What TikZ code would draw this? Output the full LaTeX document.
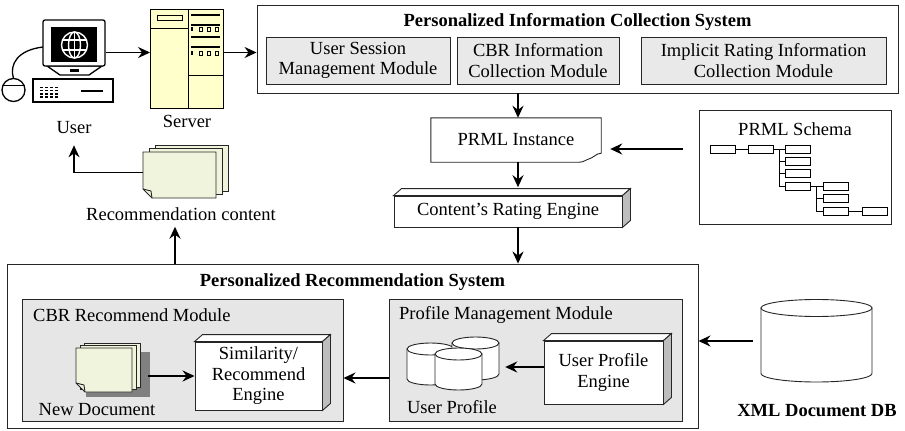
\documentclass[tikz,border=0pt]{standalone}
\usepackage{fontspec}
\setmainfont{Liberation Serif}
\usetikzlibrary{arrows.meta,calc}

\definecolor{srvfill}{HTML}{FFFFCC}
\definecolor{docfill}{HTML}{F1F4DC}
\definecolor{modfill}{HTML}{E6E6E6}
\definecolor{subfill}{HTML}{E9E9E9}
\definecolor{sidefill}{HTML}{BDBDBD}

% top and side faces of a raised (3-D) box whose front face is node #1
\newcommand\raisedface[1]{%
  \filldraw[boxline, fill=white] (#1.north west) -- ++(8,-7) -- ($(#1.north east)+(8,-7)$) -- (#1.north east) -- cycle;
  \filldraw[boxline, fill=sidefill] (#1.north east) -- ++(8,-7) -- ($(#1.south east)+(8,-7)$) -- (#1.south east) -- cycle;}

% database cylinder: centre x, top y, bottom y, x radius, y radius
\newcommand\drawcyl[5]{%
  \filldraw[boxline, fill=white] ({#1-#4},#2) -- ({#1-#4},#3)
    arc[start angle=180, end angle=360, x radius=#4pt, y radius=#5pt] -- ({#1+#4},#2) -- cycle;
  \filldraw[boxline, fill=white] (#1,#2) ellipse[x radius=#4pt, y radius=#5pt];}

% stack of three sheets: x, y of the front sheet, width, height, shift of the sheets behind
\newcommand\pagestack[6]{%
  \filldraw[sheet] ({#1+2*#5},{#2-2*#6}) rectangle ++(#3,#4);
  \filldraw[sheet] ({#1+#5},{#2-#6}) rectangle ++(#3,#4);
  \filldraw[sheet] (#1,#2) -- ++(#3,0) -- ++(0,#4) -- ({#1+9},{#2+#4}) -- (#1,{#2+#4-9}) -- cycle;
  \draw[sheet, fill=none] (#1,{#2+#4-9}) -- ({#1+8},{#2+#4-7}) -- ({#1+9},{#2+#4});}

\begin{document}
\begin{tikzpicture}[x=1pt, y=-1pt,
  every node/.style={font=\fontsize{18.5}{20.5}\selectfont, inner sep=0pt, align=center},
  boxline/.style={draw=black!85, line width=0.9pt},
  sysbox/.style={boxline, fill=white},
  subbox/.style={boxline, fill=subfill},
  modbox/.style={boxline, fill=modfill},
  facebox/.style={boxline, fill=white},
  heading/.style={font=\fontsize{18.5}{20.5}\selectfont\bfseries},
  conn/.style={line width=1.7pt, -{Stealth[length=12pt, width=11pt, inset=4pt]}},
  leaf/.style={draw, line width=0.9pt, fill=white, minimum width=25, minimum height=8},
  tree/.style={line width=0.9pt},
  sheet/.style={draw=black!85, line width=0.9pt, fill=docfill},
  hw/.style={line width=1.3pt},
]
\useasboundingbox (0,0) rectangle (905,431);
\fill[white] (0,0) rectangle (905,431);

% ---------- user's computer ----------
\draw[hw] (13.5,78.5) .. controls (9,64) and (18,50) .. (43,47);
\draw[hw, fill=white] (13.5,90) circle[radius=11.5pt];
\draw[hw] (2.5,85.5) -- (24.5,85.5);
\filldraw[hw, fill=white] (47,66) -- (102,66) -- (89,75) -- (60,75) -- cycle;
\fill (70,68.5) rectangle (79,71.5);
\node[hw, draw, fill=white, rounded corners=2pt, minimum width=62, minimum height=46] (monitor) at (74,43) {};
\fill[black] (51,27) rectangle (97,62);
\begin{scope}[draw=white, line width=1.4pt]
  \draw (74.5,45) circle[radius=13pt];
  \draw (74.5,45) ellipse[x radius=6pt, y radius=13pt];
  \draw (74.5,32) -- (74.5,58);
  \draw (62.5,40) -- (86.5,40);
  \draw (62.5,50) -- (86.5,50);
\end{scope}
\draw[hw, fill=white] (33,79) rectangle (113,102);
\foreach \yy in {86.5,89.5,93,96} \foreach \xx in {40,45,50,55}
  \fill (\xx,\yy) rectangle ++(2.6,1.6);
\draw[line width=2pt] (81,90.5) -- (103,90.5);
\node (userlabel) at (74,128) {User};

% ---------- server ----------
\node[draw, line width=0.9pt, fill=srvfill, minimum width=73, minimum height=99] (server) at (187,58.5) {};
\draw[line width=0.9pt] (188,9) -- (188,108);
\draw[line width=0.9pt] (150.5,28) -- (188,28);
\draw[line width=0.9pt] (188,75) -- (223.5,75);
\draw[line width=0.9pt] (157,15) rectangle (182,20.5);
\foreach \yy in {15,25,37,47} \draw[line width=1.6pt] (191,\yy) -- (220,\yy);
\foreach \yy in {29,53} {
  \fill (190.5,{\yy-2}) rectangle ++(2.5,4);
  \foreach \xx in {199,207,215} \draw[line width=0.8pt] (\xx,{\yy-1.5}) rectangle ++(3.5,3.5);
}
\node (serverlabel) at (187,121) {Server};

% ---------- information collection system ----------
\node[sysbox, minimum width=641, minimum height=88] (pics) at (577.5,49) {};
\node[heading] (picstitle) at (577.5,22) {Personalized Information Collection System};
\node[subbox, minimum width=184, minimum height=47] (usm) at (358,60.5) {User Session\\Management Module};
\node[subbox, minimum width=162, minimum height=47] (cic) at (538,60.5) {CBR Information\\Collection Module};
\node[subbox, minimum width=245, minimum height=47] (irc) at (763.5,60.5) {Implicit Rating Information\\Collection Module};

% ---------- PRML instance ----------
\node[minimum width=170, minimum height=44] (prml) at (516,140) {PRML Instance};
\draw[boxline] (prml.south west) -- (prml.north west) -- (prml.north east) -- ($(prml.south east)+(0,-9)$)
  .. controls ($(prml.south east)+(-5,-9)$) and ($(prml.south east)+(-8,-4)$) .. ($(prml.south east)+(-13,-3)$)
  .. controls ($(prml.south east)+(-17,-2)$) and ($(prml.south east)+(-17,0)$) .. ($(prml.south east)+(-22,0)$)
  -- cycle;

% ---------- rating engine ----------
\node[facebox, minimum width=228, minimum height=31] (cre) at (508,211.5) {Content’s Rating Engine};
\raisedface{cre}

% ---------- PRML schema ----------
\node[sysbox, minimum width=192, minimum height=114] (schema) at (795,167) {};
\node (schematitle) at (795,129) {PRML Schema};
\node[leaf] (s1) at (722.5,149) {};
\node[leaf] (s2) at (760.5,149) {};
\node[leaf] (s3) at (797.5,149) {};
\node[leaf] (s4) at (797.5,161.5) {};
\node[leaf] (s5) at (797.5,173.5) {};
\node[leaf] (s6) at (797.5,186) {};
\node[leaf] (s7) at (835.5,186) {};
\node[leaf] (s8) at (835.5,198.5) {};
\node[leaf] (s9) at (835.5,211) {};
\node[leaf] (s10) at (874.5,211) {};
\draw[tree] (s1.east) -- (s2.west);
\draw[tree] (s2.east) -- (s3.west);
\draw[tree] ($(s2.east)!0.5!(s3.west)$) |- (s4.west);
\draw[tree] ($(s2.east)!0.5!(s3.west)$) |- (s5.west);
\draw[tree] ($(s2.east)!0.5!(s3.west)$) |- (s6.west);
\draw[tree] (s6.east) -- (s7.west);
\draw[tree] ($(s6.east)!0.5!(s7.west)$) |- (s8.west);
\draw[tree] ($(s6.east)!0.5!(s7.west)$) |- (s9.west);
\draw[tree] (s9.east) -- (s10.west);

% ---------- recommendation content ----------
\pagestack{143}{152}{73}{46}{6}{3.5}
\node[minimum width=86, minimum height=55] (rcdocs) at (186,172.5) {};
\node (rclabel) at (181,214) {Recommendation content};

% ---------- recommendation system ----------
\node[sysbox, minimum width=691, minimum height=164] (rec) at (352.5,346) {};
\node[heading] (rectitle) at (352.5,282) {Personalized Recommendation System};
\node[modbox, minimum width=321, minimum height=122] (cbrm) at (182.5,360) {};
\node[anchor=west] (cbrmlabel) at (33,315) {CBR Recommend Module};
\node[modbox, minimum width=293, minimum height=122] (pmm) at (535.5,360) {};
\node[anchor=west] (pmmlabel) at (399,315) {Profile Management Module};

% new document stack with its shadow
\fill[black!50] (86,352) rectangle (150,397);
\pagestack{76}{348}{56}{44}{4}{2.5}
\node[minimum width=64, minimum height=50] (newdoc) at (108,368) {};
\node (newdoclabel) at (97,410) {New Document};

\node[facebox, minimum width=127, minimum height=68] (sim) at (258.5,376) {Similarity/\\Recommend\\Engine};
\raisedface{sim}

% user profile store
\drawcyl{430.5}{349}{379}{23.5}{6}
\drawcyl{475.5}{343}{374}{23.5}{6}
\drawcyl{458.5}{354}{384}{23.5}{6}
\node[minimum width=92, minimum height=53] (upcyl) at (453,363.5) {};
\node (uplabel) at (452,407) {User Profile};

\node[facebox, minimum width=119, minimum height=63] (upe) at (603.5,372.5) {User Profile\\Engine};
\raisedface{upe}

% ---------- XML document database ----------
\drawcyl{816.5}{308}{373.5}{55.5}{8.5}
\node[minimum width=111, minimum height=82] (xmldb) at (816.5,341) {};
\node[heading] (xmllabel) at (817,411) {XML Document DB};

% ---------- connectors ----------
\coordinate (toprow) at (0,52.5);
\coordinate (spine) at (518,0);
\coordinate (schemarow) at (0,149);
\coordinate (uprow) at (0,367);
\coordinate (modrow) at (0,378);
\coordinate (upcol) at (175,0);
\draw[conn] (monitor.east |- toprow) -- (server.west |- toprow);
\draw[conn] (server.east |- toprow) -- (pics.west |- toprow);
\draw[conn] (spine |- pics.south) -- (spine |- prml.north);
\draw[conn] (spine |- prml.south) -- ++(0,25);
\draw[conn] (spine |- cre.south) -- (spine |- rec.north);
\draw[conn, shorten <=16pt, shorten >=9pt] (schema.west |- schemarow) -- (prml.east |- schemarow);
\draw[conn, shorten >=6pt] (upcol |- rec.north) -- (upcol |- rclabel.south);
\draw[conn, shorten >=11pt] (rcdocs.west) -| (userlabel.south);
\draw[conn, shorten <=8pt] (newdoc.east |- sim.west) -- (sim.west);
\draw[conn] (pmm.west |- modrow) -- (cbrm.east |- modrow);
\draw[conn, shorten >=6pt] (upe.west |- uprow) -- (upcyl.east |- uprow);
\draw[conn, shorten <=8pt] (xmldb.west) -- (rec.east |- xmldb.west);
\end{tikzpicture}
\end{document}
